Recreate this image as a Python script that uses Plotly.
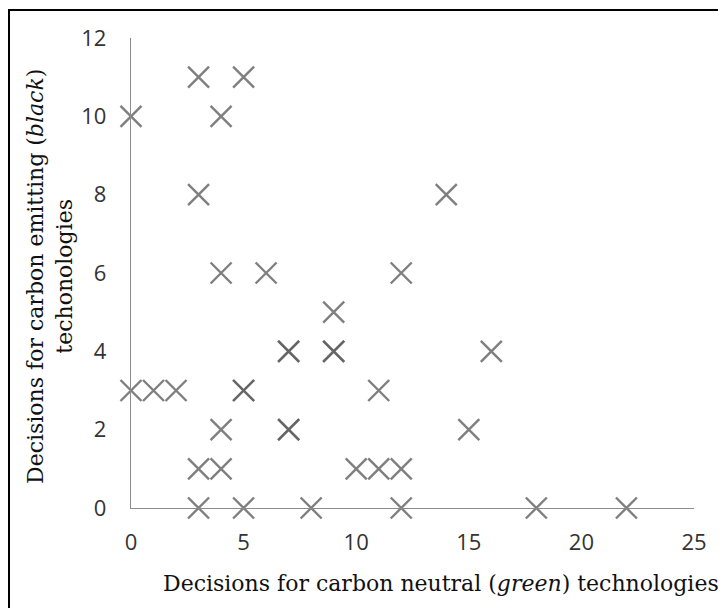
import plotly.graph_objects as go

# decisions for green (x) and black (y) technologies, one entry per participant
green = [0, 3, 5, 4, 3, 14, 4, 6, 12, 9, 7, 7, 9, 9, 16, 0, 1, 2, 5, 5, 11,
         4, 7, 7, 15, 3, 4, 10, 11, 12, 3, 5, 8, 12, 18, 22]
black = [10, 11, 11, 10, 8, 8, 6, 6, 6, 5, 4, 4, 4, 4, 4, 3, 3, 3, 3, 3, 3,
         2, 2, 2, 2, 1, 1, 1, 1, 1, 0, 0, 0, 0, 0, 0]

x_ticks = [0, 5, 10, 15, 20, 25]
y_ticks = [0, 2, 4, 6, 8, 10, 12]

# page body has an 8px margin, so the figure is a little smaller than the window
W, H = 718, 600
L, R, T, B = 123, 32, 30, 100
pw, ph = W - L - R, H - T - B

fig = go.Figure()
fig.add_trace(go.Scatter(
    x=green, y=black, mode="markers", cliponaxis=False, showlegend=False,
    marker=dict(symbol="x-thin", size=21, color="rgba(95,95,95,0.8)",
                line=dict(width=2.4, color="rgba(95,95,95,0.8)")),
))

tick_font = dict(family="'Open Sans', sans-serif", size=22, color="#333333")
title_font = dict(family="'DejaVu Serif', serif", size=22, color="#111111")

fig.update_layout(
    width=W, height=H,
    margin=dict(l=L, r=R, t=T, b=B),
    paper_bgcolor="white", plot_bgcolor="white",
    xaxis=dict(range=[0, 25], tickvals=x_ticks, showgrid=False, zeroline=False,
               showline=True, linecolor="#8c8c8c", linewidth=1.3,
               ticks="", tickfont=tick_font, ticklabelstandoff=14),
    yaxis=dict(range=[0, 12], tickvals=y_ticks, showgrid=False, zeroline=False,
               showline=True, linecolor="#8c8c8c", linewidth=1.3,
               ticks="", tickfont=tick_font, ticklabelstandoff=19),
    annotations=[
        dict(text="Decisions for carbon neutral (<i>green</i>) technologies",
             xref="paper", yref="paper", x=(433 - L) / pw, y=-(575 - (T + ph)) / ph,
             showarrow=False, font=title_font, xanchor="center", yanchor="middle"),
        dict(text="Decisions for carbon emitting (<i>black</i>)<br>techonologies",
             xref="paper", yref="paper", x=(42 - L) / pw, y=(T + ph - 269) / ph,
             showarrow=False, font=title_font, textangle=-90,
             xanchor="center", yanchor="middle"),
    ],
    shapes=[
        dict(type="rect", xref="paper", yref="paper",
             x0=(1 - L) / pw, x1=(W + 20 - L) / pw,
             y0=-(H + 20 - (T + ph)) / ph, y1=(T + ph - 2) / ph,
             line=dict(color="black", width=2)),
    ],
)

fig.write_html("out.html")
